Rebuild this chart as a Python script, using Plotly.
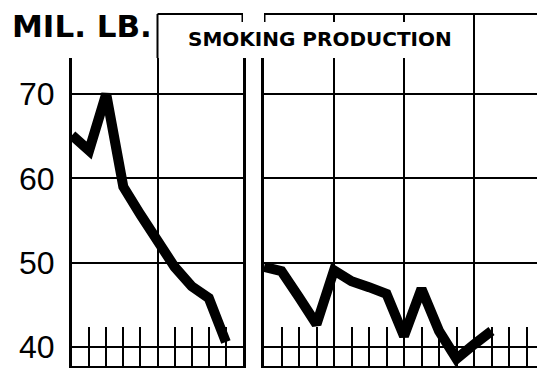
import plotly.graph_objects as go

# ---- data ----
left_years = [1950, 1951, 1952, 1953, 1954, 1955, 1956, 1957, 1958, 1959]
left_values = [65.1, 63.3, 70.0, 59.0, 55.7, 52.8, 49.5, 47.2, 45.8, 40.6]

right_years = [1968, 1969, 1970, 1971, 1972, 1973, 1974, 1975, 1976, 1977, 1978, 1979, 1980, 1981]
right_values = [49.5, 49.0, 45.9, 42.7, 49.1, 47.8, 47.1, 46.3, 41.3, 46.9, 41.9, 38.6, 40.3, 41.9]

y_ticks = [40, 50, 60, 70]
y_tick_labels = ["40", "50", "60", "70"]

unit_label = "MIL. LB."
title_text = "SMOKING PRODUCTION"

# ---- geometry ----
W, H = 537, 368
ML, MR, MT, MB = 72, 0, 58, 2
PW = W - ML - MR
PH = H - MT - MB


def px_x(p):
    return (p - ML) / PW


def px_y(p):
    return (H - MB - p) / PH


Y_RANGE = [37.75, 74.27]
LEFT_RANGE = [1950, 1960]
RIGHT_RANGE = [1968, 1968 + 273 / 17.5]

fig = go.Figure()
fig.add_trace(go.Scatter(x=left_years, y=left_values, mode="lines",
                         line=dict(color="black", width=10), xaxis="x", yaxis="y",
                         showlegend=False, hoverinfo="skip"))
fig.add_trace(go.Scatter(x=right_years, y=right_values, mode="lines",
                         line=dict(color="black", width=10), xaxis="x2", yaxis="y2",
                         showlegend=False, hoverinfo="skip"))

common_x = dict(showticklabels=False, showgrid=True, gridcolor="black", gridwidth=2,
                zeroline=False, showline=True, linecolor="black", linewidth=2,
                ticks="inside", ticklen=39, tickwidth=2, tickcolor="black",
                tickmode="linear", automargin=False)
common_y = dict(range=Y_RANGE, tickmode="array", tickvals=y_ticks, showgrid=True,
                gridcolor="black", gridwidth=2, zeroline=False, showline=True,
                linecolor="black", linewidth=3, ticks="", automargin=False)

fig.update_layout(
    width=W, height=H,
    margin=dict(l=ML, r=MR, t=MT, b=MB, autoexpand=False),
    paper_bgcolor="white", plot_bgcolor="white",
    xaxis=dict(domain=[0, px_x(243)], range=LEFT_RANGE, tick0=1950, dtick=5,
               anchor="y",
               minor=dict(dtick=1, tick0=1950, ticks="inside", ticklen=39,
                          tickwidth=2, tickcolor="black", showgrid=False),
               **common_x),
    xaxis2=dict(domain=[px_x(264), 1.0], range=RIGHT_RANGE, tick0=1968, dtick=4,
                anchor="y2",
                minor=dict(dtick=1, tick0=1968, ticks="inside", ticklen=39,
                           tickwidth=2, tickcolor="black", showgrid=False),
                **common_x),
    yaxis=dict(anchor="x", ticktext=y_tick_labels, mirror=True, ticklabelstandoff=8,
               tickfont=dict(family="Liberation Sans", size=32, color="black"),
               **common_y),
    yaxis2=dict(anchor="x2", showticklabels=False, **common_y),
)

# title box frame (paper y, axis x)
top = px_y(14)
stub = px_y(22)
line = dict(color="black", width=2)
shapes = [
    dict(type="line", xref="x", yref="paper", x0=1955, x1=1960, y0=top, y1=top, line=line),
    dict(type="line", xref="x2", yref="paper", x0=1968, x1=RIGHT_RANGE[1], y0=top, y1=top, line=line),
    dict(type="line", xref="x", yref="paper", x0=1955, x1=1955, y0=top, y1=1.0, line=line),
    dict(type="line", xref="x2", yref="paper", x0=1980, x1=1980, y0=top, y1=1.0, line=line),
    dict(type="line", xref="x", yref="paper", x0=1960, x1=1960, y0=top, y1=stub, line=dict(color="black", width=3)),
    dict(type="line", xref="x2", yref="paper", x0=1968, x1=1968, y0=top, y1=stub, line=dict(color="black", width=3)),
    dict(type="line", xref="x2", yref="paper", x0=1972, x1=1972, y0=top, y1=stub, line=line),
    dict(type="line", xref="x2", yref="paper", x0=1976, x1=1976, y0=top, y1=stub, line=line),
]
fig.update_layout(shapes=shapes)

fig.add_annotation(text=unit_label, xref="paper", yref="paper", x=px_x(10), y=px_y(26),
                   xanchor="left", yanchor="middle", showarrow=False,
                   font=dict(family="DejaVu Sans", size=31, color="black", weight="bold"))
fig.add_annotation(text=title_text, xref="paper", yref="paper", x=px_x(320), y=px_y(39),
                   xanchor="center", yanchor="middle", showarrow=False,
                   font=dict(family="DejaVu Sans", size=20, color="black", weight="bold"))

fig.write_html("out.html",
               config={"displayModeBar": False},
               post_script="document.body.style.margin='0';document.body.style.overflow='hidden';")
